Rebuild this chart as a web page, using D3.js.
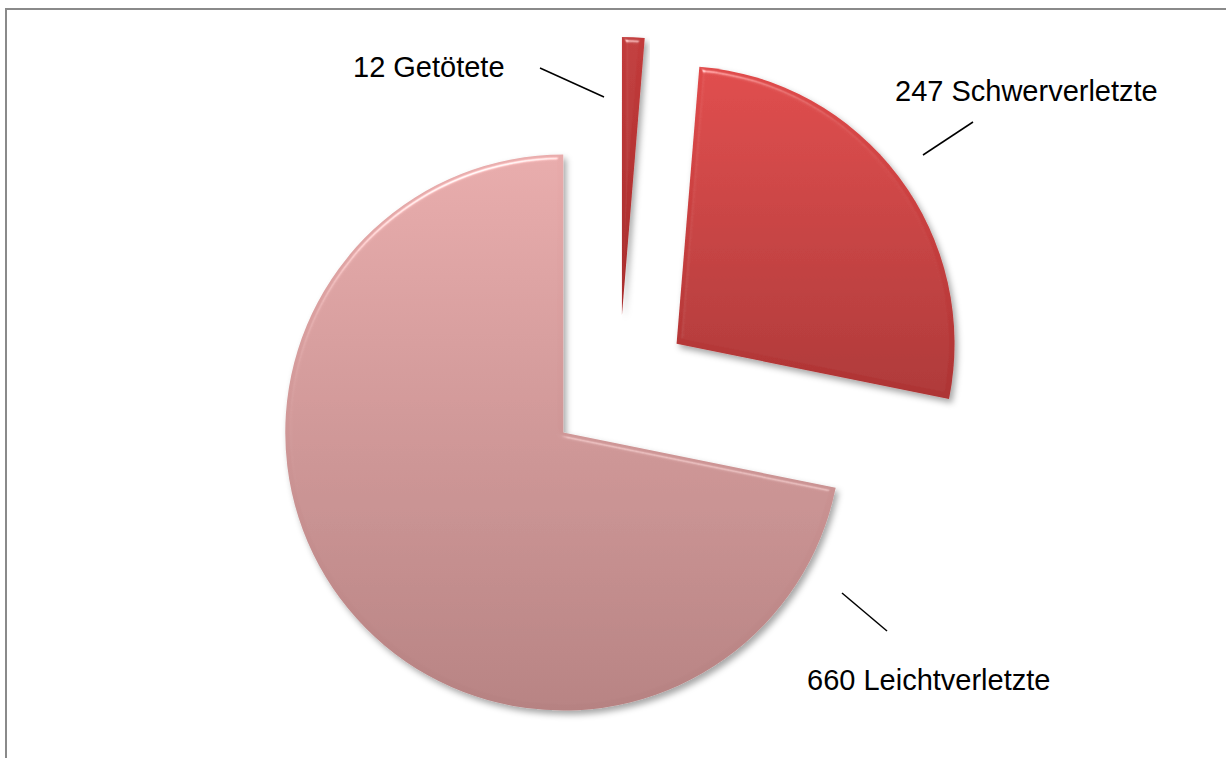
<!DOCTYPE html>
<html>
<head>
<meta charset="utf-8">
<script src="https://cdn.jsdelivr.net/npm/d3@7"></script>
<style>
  html, body { margin: 0; padding: 0; background: #fff; overflow: hidden; }
  svg { display: block; }
  text { font-family: "Liberation Sans", Arial, sans-serif; }
</style>
</head>
<body>
<svg id="chart" width="1226" height="758"></svg>
<script>
// data
var categories = [ 'Getötete', 'Schwerverletzte', 'Leichtverletzte' ];
var values = [ 12, 247, 660 ];
var colorsTop = [ '#c23b3b', '#e04a4a', '#e8abab' ];
var colorsBottom = [ '#a82c2c', '#ad3434', '#b68282' ];

var width = 1226,
	height = 758,
	cx = 619,
	cy = 387,
	radius = 278,
	explode = 72;

// label anchor + leader line, picked by hand like the original "best fit"
var labelLayout = [
	{ x: 353, y: 77, anchor: 'start', line: [ [ 540, 68 ], [ 604, 97 ] ] },
	{ x: 895, y: 101, anchor: 'start', line: [ [ 973, 122 ], [ 923, 155 ] ] },
	{ x: 807, y: 690, anchor: 'start', line: [ [ 842, 593 ], [ 887, 631 ] ] }
];

var svg = d3.select( '#chart' );
var defs = svg.append( 'defs' );

// gradient per slice
categories.forEach( function( _c, _i ) {
	var g = defs.append( 'linearGradient' )
		.attr( 'id', 'grad' + _i )
		.attr( 'x1', 0 ).attr( 'y1', 0 )
		.attr( 'x2', 0 ).attr( 'y2', 1 );
	g.append( 'stop' ).attr( 'offset', '0%' ).attr( 'stop-color', colorsTop[ _i ] );
	g.append( 'stop' ).attr( 'offset', '100%' ).attr( 'stop-color', colorsBottom[ _i ] );
} );

// soft bevel + drop shadow
var f = defs.append( 'filter' )
	.attr( 'id', 'bevel' )
	.attr( 'x', '-10%' ).attr( 'y', '-10%' )
	.attr( 'width', '130%' ).attr( 'height', '130%' );
f.append( 'feGaussianBlur' ).attr( 'in', 'SourceAlpha' ).attr( 'stdDeviation', 2.5 ).attr( 'result', 'blur' );
var spec = f.append( 'feSpecularLighting' )
	.attr( 'in', 'blur' ).attr( 'surfaceScale', 4 )
	.attr( 'specularConstant', 0.7 ).attr( 'specularExponent', 40 )
	.attr( 'lighting-color', '#ffffff' ).attr( 'result', 'spec' );
spec.append( 'feDistantLight' ).attr( 'azimuth', 250 ).attr( 'elevation', 40 );
f.append( 'feComposite' ).attr( 'in', 'spec' ).attr( 'in2', 'SourceAlpha' ).attr( 'operator', 'in' ).attr( 'result', 'specIn' );
f.append( 'feComposite' ).attr( 'in', 'SourceGraphic' ).attr( 'in2', 'specIn' )
	.attr( 'operator', 'arithmetic' ).attr( 'k1', 0 ).attr( 'k2', 1 ).attr( 'k3', 0.8 ).attr( 'k4', 0 ).attr( 'result', 'lit' );
f.append( 'feGaussianBlur' ).attr( 'in', 'SourceAlpha' ).attr( 'stdDeviation', 3 ).attr( 'result', 'sblur' );
f.append( 'feOffset' ).attr( 'in', 'sblur' ).attr( 'dx', 3 ).attr( 'dy', 4 ).attr( 'result', 'soff' );
f.append( 'feFlood' ).attr( 'flood-color', '#000' ).attr( 'flood-opacity', 0.35 ).attr( 'result', 'sc' );
f.append( 'feComposite' ).attr( 'in', 'sc' ).attr( 'in2', 'soff' ).attr( 'operator', 'in' ).attr( 'result', 'shadow' );
var merge = f.append( 'feMerge' );
merge.append( 'feMergeNode' ).attr( 'in', 'shadow' );
merge.append( 'feMergeNode' ).attr( 'in', 'lit' );

// chart frame (runs off the right and bottom of the window)
svg.append( 'rect' )
	.attr( 'x', 6 ).attr( 'y', 9 )
	.attr( 'width', 1240 ).attr( 'height', 780 )
	.attr( 'fill', 'none' )
	.attr( 'stroke', '#8a8a8a' )
	.attr( 'stroke-width', 2 );

var pie = d3.pie().sort( null ).value( function( _d ) { return _d; } );
var arc = d3.arc().innerRadius( 0 ).outerRadius( radius );
var arcs = pie( values );

svg.append( 'g' )
	.attr( 'transform', 'translate(' + cx + ',' + cy + ')' )
	.selectAll( 'path.slice' )
	.data( arcs )
	.enter().append( 'path' )
	.attr( 'class', 'slice' )
	.attr( 'd', arc )
	.attr( 'transform', function( _d ) {
		var mid = ( _d.startAngle + _d.endAngle ) / 2;
		return 'translate(' + ( Math.sin( mid ) * explode ) + ',' + ( -Math.cos( mid ) * explode ) + ')';
	} )
	.attr( 'fill', function( _d, _i ) { return 'url(#grad' + _i + ')'; } )
	.attr( 'filter', 'url(#bevel)' );

// leader lines
svg.append( 'g' ).selectAll( 'line' )
	.data( labelLayout )
	.enter().append( 'line' )
	.attr( 'x1', function( _d ) { return _d.line[ 0 ][ 0 ]; } )
	.attr( 'y1', function( _d ) { return _d.line[ 0 ][ 1 ]; } )
	.attr( 'x2', function( _d ) { return _d.line[ 1 ][ 0 ]; } )
	.attr( 'y2', function( _d ) { return _d.line[ 1 ][ 1 ]; } )
	.attr( 'stroke', '#000' )
	.attr( 'stroke-width', 1.5 );

// labels
svg.append( 'g' ).selectAll( 'text' )
	.data( labelLayout )
	.enter().append( 'text' )
	.attr( 'x', function( _d ) { return _d.x; } )
	.attr( 'y', function( _d ) { return _d.y; } )
	.attr( 'text-anchor', function( _d ) { return _d.anchor; } )
	.attr( 'font-size', 29 )
	.attr( 'fill', '#000' )
	.text( function( _d, _i ) { return values[ _i ] + ' ' + categories[ _i ]; } );
</script>
</body>
</html>
